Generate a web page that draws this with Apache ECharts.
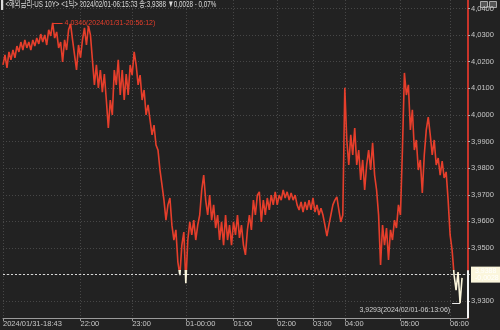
<!DOCTYPE html>
<html><head><meta charset="utf-8">
<script src="https://cdn.jsdelivr.net/npm/echarts@6/dist/echarts.min.js"></script>
<style>html,body{margin:0;padding:0;background:#222;}#c{width:500px;height:330px;}</style>
</head><body><div id="c"></div>
<script>
// ---- data ----
const values = [
4.0188,4.0226,4.0177,4.0237,4.0207,4.0244,4.0215,4.0259,4.0237,4.0274,
4.0244,4.0282,4.0252,4.0274,4.0244,4.0282,4.0259,4.0289,4.0267,4.0304,
4.0274,4.0301,4.0263,4.0320,4.0297,4.0346,4.0289,4.0312,4.0252,4.0274,
4.0199,4.0282,4.0244,4.0320,4.0342,4.0282,4.0226,4.0169,4.0263,4.0215,
4.0282,4.0327,4.0263,4.0335,4.0301,4.0207,4.0113,4.0188,4.0102,4.0169,
4.0086,4.0154,4.0056,3.9951,4.0056,4.0000,4.0169,4.0113,4.0207,4.0075,
4.0169,4.0056,4.0154,4.0075,4.0188,4.0150,4.0237,4.0188,4.0113,4.0150,
4.0056,4.0094,4.0000,4.0038,3.9981,3.9925,3.9962,3.9887,3.9868,3.9793,
3.9737,3.9680,3.9605,3.9662,3.9688,3.9586,3.9530,3.9568,3.9447,3.9398,
3.9511,3.9560,3.9368,3.9530,3.9598,3.9549,3.9605,3.9530,3.9586,3.9624,
3.9718,3.9774,3.9680,3.9624,3.9699,3.9605,3.9662,3.9575,3.9624,3.9530,
3.9598,3.9511,3.9624,3.9530,3.9586,3.9511,3.9598,3.9549,3.9624,3.9538,
3.9586,3.9511,3.9474,3.9568,3.9624,3.9568,3.9680,3.9624,3.9699,3.9711,
3.9598,3.9680,3.9624,3.9688,3.9643,3.9699,3.9662,3.9711,3.9662,3.9699,
3.9680,3.9718,3.9688,3.9711,3.9680,3.9707,3.9680,3.9699,3.9662,3.9643,
3.9673,3.9635,3.9673,3.9643,3.9680,3.9643,3.9688,3.9635,3.9662,3.9624,
3.9650,3.9624,3.9586,3.9545,3.9586,3.9624,3.9662,3.9680,3.9692,3.9643,
3.9598,3.9624,4.0102,3.9906,3.9812,3.9925,3.9850,3.9951,3.9812,3.9868,
3.9756,3.9831,3.9718,3.9812,3.9868,3.9793,3.9895,3.9774,3.9718,3.9624,
3.9436,3.9586,3.9511,3.9575,3.9455,3.9568,3.9530,3.9605,3.9575,3.9662,
3.9624,3.9868,4.0158,4.0075,4.0113,3.9944,4.0019,3.9868,3.9906,3.9793,
3.9831,3.9707,3.9850,3.9944,3.9992,3.9925,3.9850,3.9906,3.9812,3.9838,
3.9774,3.9827,3.9763,3.9786,3.9680,3.9549,3.9492,3.9398,3.9342,3.9410,
3.9293,3.9388
];
const categoryCount = 235;
const categories = Array.from({length: categoryCount}, (_, i) => String(i));
const tickIndex  = [0, 39, 65, 92, 116, 138, 156, 172, 200, 225];
const tickLabels = ['2024/01/31-18:43','22:00','23:00','01-00:00','01:00','02:00','03:00','04:00','05:00','06:00'];
const yLabelValues = [3.93,3.95,3.96,3.97,3.98,3.99,4.00,4.01,4.02,4.03,4.04];
const yGridValues  = [3.93,3.94,3.95,3.96,3.97,3.98,3.99,4.00,4.01,4.02,4.03,4.04];
const prevClose = 3.9416;
const lastPrice = 3.9388;
const change = '-0,0028';
const maxText = '4,0346(2024/01/31-20:56:12)';
const minText = '3,9293(2024/02/01-06:13:06)';
const titleText = '▌<해외금리-US 10Y> <1틱> 2024/02/01-06:15:33 종:3,9388 ▼0,0028 - 0,07%';
const yMin = 3.9237, yMax = 4.0432;

// ---- chart ----
const RED = '#e63e2b', CREAM = '#fbf6dc';
const fmt = v => v.toFixed(4).replace('.', ',');
let maxIdx = 0, minIdx = 0;
values.forEach((v, i) => { if (v > values[maxIdx]) maxIdx = i; if (v < values[minIdx]) minIdx = i; });
const FONT = "'Liberation Sans',Arial,sans-serif";

const chart = echarts.init(document.getElementById('c'), null, {renderer: 'canvas'});
chart.setOption({
  animation: false,
  backgroundColor: '#222222',
  grid: {left: 0, right: 32, top: 0, bottom: 12},
  xAxis: {
    type: 'category', data: categories, boundaryGap: false,
    axisLine: {lineStyle: {color: '#9a9a9a', width: 1}},
    axisTick: {show: true, length: 3, interval: i => tickIndex.includes(i), lineStyle: {color: '#9a9a9a'}},
    axisLabel: {
      interval: i => tickIndex.includes(i), align: 'left', margin: 2,
      color: '#c8c8c8', fontSize: 7.5, fontFamily: FONT,
      formatter: (v, i) => { const k = tickIndex.indexOf(Number(v)); return k >= 0 ? tickLabels[k] : ''; }
    },
    splitLine: {show: true, interval: i => tickIndex.includes(i), lineStyle: {color: '#474747', type: [1, 2]}}
  },
  yAxis: {
    type: 'value', position: 'right', min: yMin, max: yMax,
    axisLine: {show: true, lineStyle: {color: '#c8342a', width: 2}},
    axisTick: {show: true, length: 2, customValues: yGridValues, lineStyle: {color: '#aaa'}},
    axisLabel: {customValues: yLabelValues, color: '#c8c8c8', fontSize: 7.5, margin: 3, fontFamily: FONT, formatter: v => fmt(v)},
    splitLine: {show: true, lineStyle: {color: '#474747', type: [1, 2]}}
  },
  series: [{
    type: 'line', data: values, showSymbol: false, symbol: 'none',
    lineStyle: {width: 1.6, color: RED},
    markLine: {
      silent: true, symbol: 'none', animation: false,
      data: [
        {yAxis: prevClose, lineStyle: {color: '#d8d8d8', type: [2, 2], width: 1}, label: {show: false}},
        {yAxis: lastPrice, lineStyle: {color: 'rgba(0,0,0,0)', width: 0}, label: {
          show: true, position: 'end', distance: 3, formatter: fmt(lastPrice) + '\n' + change,
          backgroundColor: CREAM, color: '#ffffff', fontSize: 7, lineHeight: 7, padding: [1, 4, 1, 4], fontFamily: FONT
        }},
        [{coord: [categoryCount - 1, prevClose]}, {coord: [categoryCount - 1, yMin], lineStyle: {color: '#f4f4f4', width: 2, type: 'solid'}, label: {show: false}}],
        [{coord: [maxIdx, values[maxIdx]]}, {coord: [maxIdx + 5, values[maxIdx]], lineStyle: {color: RED, width: 1, type: 'solid'},
          label: {show: true, position: 'end', distance: 2, formatter: maxText, color: RED, fontSize: 7, fontFamily: FONT}}],
        [{coord: [minIdx, values[minIdx]]}, {coord: [minIdx - 4, values[minIdx]], lineStyle: {color: '#e8e8e8', width: 1, type: 'solid'},
          label: {show: true, position: 'end', distance: 2, formatter: minText, color: '#d0d0d0', fontSize: 7, fontFamily: FONT, verticalAlign: 'top', padding: [3, 0, 0, 0]}}]
      ]
    }
  }],
  graphic: [
    {type: 'text', left: 1, top: 0, scaleX: 0.66, originX: 0,
      style: {text: titleText, fill: '#dcdcdc', font: "9.5px 'Liberation Sans','Noto Sans CJK KR',sans-serif"}},
    {type: 'rect', right: 12, top: 1, shape: {width: 7, height: 6}, style: {fill: '#555', stroke: '#aaa', lineWidth: 1}},
    {type: 'rect', right: 3, top: 1, shape: {width: 7, height: 6}, style: {fill: '#555', stroke: '#aaa', lineWidth: 1}}
  ]
});
// colour the line red above the previous close and cream below it
const H = chart.getHeight();
const py = chart.convertToPixel({yAxisIndex: 0}, prevClose);
const t = Math.min(1, Math.max(0, py / H));
chart.setOption({series: [{lineStyle: {color: new echarts.graphic.LinearGradient(0, 0, 0, H, [
  {offset: 0, color: RED}, {offset: t, color: RED}, {offset: t, color: CREAM}, {offset: 1, color: CREAM}
], true)}}]});
</script></body></html>
